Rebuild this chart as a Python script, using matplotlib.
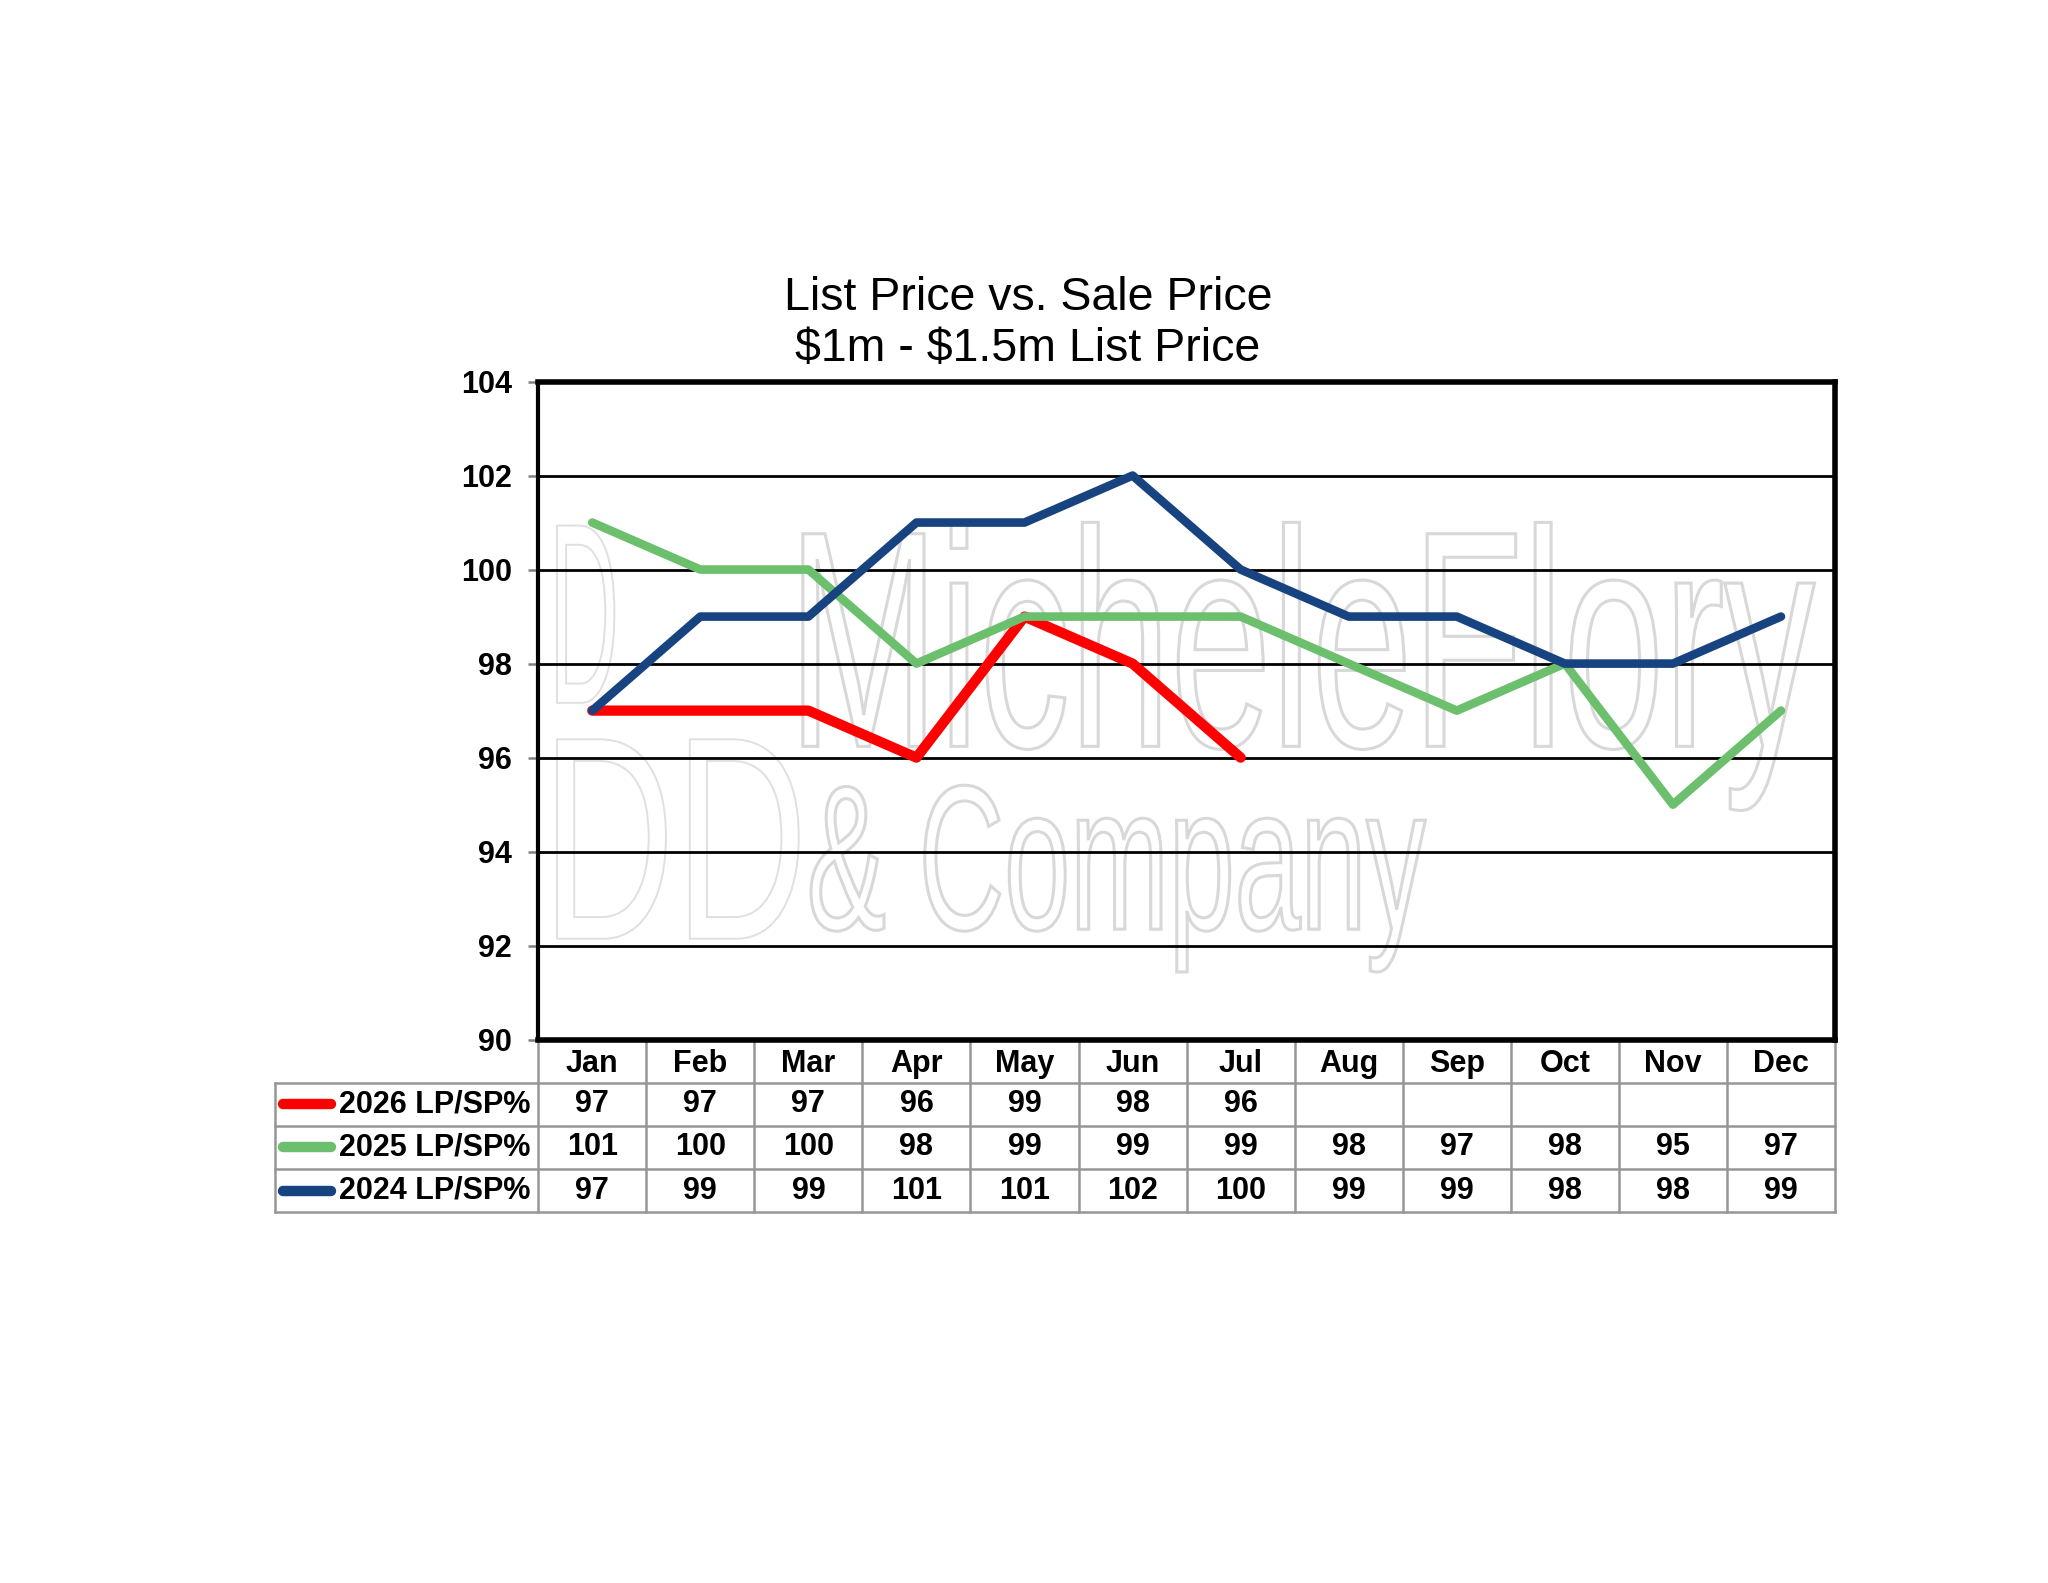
#!/usr/bin/env python3

# List price vs sale price line chart with a data table under the x-axis.

import matplotlib.pyplot as plt
from matplotlib.font_manager import FontProperties
from matplotlib.patches import PathPatch
from matplotlib.textpath import TextPath
from matplotlib.transforms import Affine2D, blended_transform_factory

months = ['Jan', 'Feb', 'Mar', 'Apr', 'May', 'Jun',
          'Jul', 'Aug', 'Sep', 'Oct', 'Nov', 'Dec']
lp_sp_2026 = [97, 97, 97, 96, 99, 98, 96, None, None, None, None, None]
lp_sp_2025 = [101, 100, 100, 98, 99, 99, 99, 98, 97, 98, 95, 97]
lp_sp_2024 = [97, 99, 99, 101, 101, 102, 100, 99, 99, 98, 98, 99]
series_names = ['2026 LP/SP%', '2025 LP/SP%', '2024 LP/SP%']
series_colors = ['#ff0000', '#6cbf6c', '#174481']
y_ticks = [90, 92, 94, 96, 98, 100, 102, 104]
title = 'List Price vs. Sale Price\n\\$1m - \\$1.5m List Price'

plt.rcParams['font.family'] = ['Liberation Sans', 'DejaVu Sans']

fig = plt.figure(figsize=(20.48, 15.83), dpi=100)
ax = fig.add_axes([0.2628, 0.3432, 0.6332, 0.4158])

# Watermark (outlined, very light), drawn in figure coords behind the lines.
wm_prop = FontProperties(family='Liberation Sans')


def watermark(text, x0, y0, w, h, lw=2.2, color='#d8d8d8'):
    tp = TextPath((0, 0), text, size=1, prop=wm_prop)
    bb = tp.get_extents()
    tr = (Affine2D().translate(-bb.x0, -bb.y0)
          .scale(w / bb.width, h / bb.height)
          .translate(x0, y0) + fig.transFigure)
    patch = PathPatch(tp, facecolor='none', edgecolor=color,
                      lw=lw, transform=tr, zorder=0.5, clip_on=False)
    ax.add_patch(patch)


watermark('MicheleFlory', 0.392, 0.488, 0.494, 0.182)
watermark('& Company', 0.396, 0.386, 0.300, 0.118)
watermark('DD', 0.272, 0.407, 0.118, 0.126, lw=1.4, color='#e0e0e0')
watermark('D', 0.272, 0.556, 0.028, 0.112, lw=1.4, color='#e0e0e0')

# Grid lines
for yv in y_ticks[1:-1]:
    ax.axhline(yv, color='black', lw=2.0, zorder=1)

x = list(range(len(months)))
all_series = [lp_sp_2026, lp_sp_2025, lp_sp_2024]
widths = [7.4, 6.2, 6.2]
for vals, col, lw in zip(all_series, series_colors, widths):
    xs = [i for i, v in zip(x, vals) if v is not None]
    ys = [v for v in vals if v is not None]
    ax.plot(xs, ys, color=col, lw=lw, zorder=3, solid_capstyle='round')

ax.set_xlim(-0.5, len(months) - 0.5)
ax.set_ylim(90, 104)
ax.set_yticks(y_ticks)
ax.set_yticklabels([str(t) for t in y_ticks], fontsize=22, fontweight='bold')
ax.tick_params(axis='y', length=7, width=1.8, color='#808080', pad=12)
ax.set_xticks([])
for side in ['top', 'right', 'bottom']:
    ax.spines[side].set_linewidth(4.0)
ax.spines['left'].set_linewidth(3.0)
for sp in ax.spines.values():
    sp.set_color('black')
    sp.set_zorder(4)

fig.text(0.502, 0.7955, title, ha='center', va='center', fontsize=33.5,
         linespacing=1.22)

# Data table under the plot, x in data units, y in axes fraction.
tt = blended_transform_factory(ax.transData, ax.transAxes)
row_h = 0.0655
label_w = 2.44
grid_c = '#969696'
left = -0.5
right = len(months) - 0.5
lab_left = left - label_w
fs_tab = 22

# header row
for i, m in enumerate(months):
    ax.text(i, -row_h / 2 - 0.004, m, transform=tt, ha='center',
            va='center', fontsize=fs_tab, fontweight='bold', clip_on=False)
for i in range(len(months) + 1):
    ax.plot([left + i, left + i], [0, -4 * row_h], transform=tt,
            color=grid_c, lw=1.8, clip_on=False, zorder=2)
ax.plot([lab_left, lab_left], [-row_h, -4 * row_h], transform=tt,
        color=grid_c, lw=1.8, clip_on=False)
for r in range(1, 5):
    ax.plot([lab_left, right], [-r * row_h, -r * row_h], transform=tt,
            color=grid_c, lw=1.8, clip_on=False)

for r, (name, col, vals) in enumerate(
        zip(series_names, series_colors, all_series)):
    yc = -(r + 1.5) * row_h
    ax.plot([lab_left + 0.08, lab_left + 0.52], [yc, yc], transform=tt,
            color=col, lw=7.5, solid_capstyle='round', clip_on=False)
    ax.text(-0.57, yc, name, transform=tt, ha='right', va='center',
            fontsize=fs_tab, fontweight='bold', clip_on=False)
    for i, v in enumerate(vals):
        if v is not None:
            ax.text(i, yc, str(v), transform=tt, ha='center', va='center',
                    fontsize=fs_tab, fontweight='bold', clip_on=False)

fig.savefig('out.png', dpi=100, facecolor='white')
